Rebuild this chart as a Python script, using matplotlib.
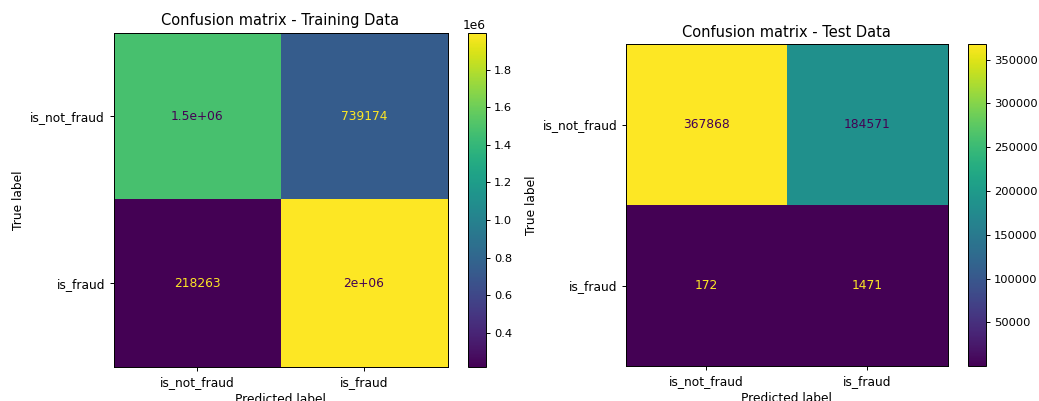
import numpy as np
import matplotlib
matplotlib.use("Agg")
import matplotlib.pyplot as plt

labels = ["is_not_fraud", "is_fraud"]
train_cm = np.array([[1476089, 739174],
                     [218263, 1997000]])
test_cm = np.array([[367868, 184571],
                    [172, 1471]])
titles = ["Confusion matrix - Training Data", "Confusion matrix - Test Data"]

W, H = 1039, 401
DPI = 88
fig = plt.figure(figsize=(W / DPI, H / DPI), dpi=DPI)

def frac(x0, y0, x1, y1):
    return [x0 / W, 1 - y1 / H, (x1 - x0) / W, (y1 - y0) / H]

layouts = [
    (frac(113.5, 32.7, 447.5, 367), frac(468.3, 32.7, 485.7, 367)),
    (frac(625.7, 44, 947.7, 366), frac(968.3, 44, 985.7, 366)),
]

cmap = plt.get_cmap("viridis")

def fmt(v):
    t = format(v, ".2g")
    d = format(int(v), "d")
    return d if len(d) < len(t) else t

for cm, title, (ax_rect, cb_rect) in zip([train_cm, test_cm], titles, layouts):
    ax = fig.add_axes(ax_rect)
    cax = fig.add_axes(cb_rect)
    im = ax.imshow(cm, cmap=cmap, interpolation="nearest", aspect="auto")
    vmin, vmax = cm.min(), cm.max()
    thresh = (vmax + vmin) / 2.0
    for i in range(cm.shape[0]):
        for j in range(cm.shape[1]):
            color = cmap(0.0) if cm[i, j] >= thresh else cmap(1.0)
            ax.text(j, i, fmt(cm[i, j]), ha="center", va="center", color=color, fontsize=10)
    ax.set_xticks(range(len(labels)))
    ax.set_xticklabels(labels)
    ax.set_yticks(range(len(labels)))
    ax.set_yticklabels(labels)
    ax.set_xlabel("Predicted label")
    ax.set_ylabel("True label")
    ax.set_title(title)
    cb = fig.colorbar(im, cax=cax)
    cb.ax.tick_params(labelsize=9.4)

fig.savefig("out.png", dpi=DPI)
